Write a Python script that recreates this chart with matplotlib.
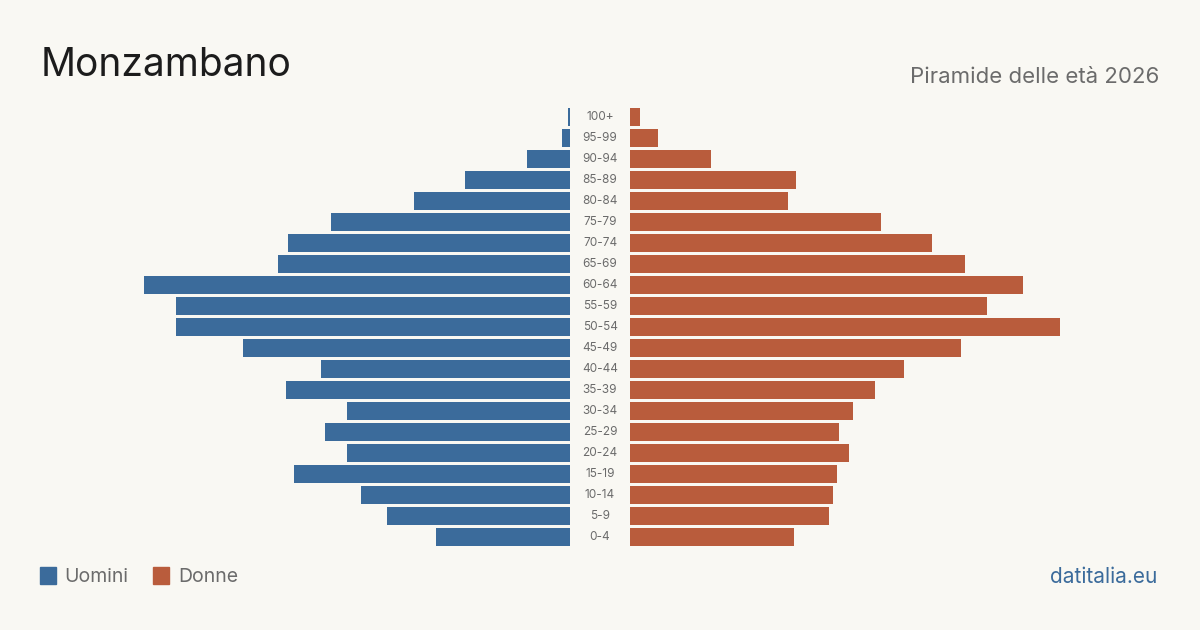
import matplotlib
matplotlib.use("Agg")
import matplotlib.pyplot as plt
from matplotlib.patches import Rectangle
from matplotlib.transforms import blended_transform_factory

# age classes, bottom to top
age_groups = ["0-4", "5-9", "10-14", "15-19", "20-24", "25-29", "30-34", "35-39",
              "40-44", "45-49", "50-54", "55-59", "60-64", "65-69", "70-74",
              "75-79", "80-84", "85-89", "90-94", "95-99", "100+"]
uomini = [134, 183, 209, 276, 223, 245, 223, 284, 249, 327, 394, 394, 426,
          292, 282, 239, 156, 105, 43, 8, 2]
donne = [164, 199, 203, 207, 219, 209, 223, 245, 274, 331, 430, 357, 393,
         335, 302, 251, 158, 166, 81, 28, 10]

bg = "#f9f8f3"
blue = "#3b6b9b"
red = "#b95c3c"

W, H = 1200, 630
fig = plt.figure(figsize=(12, 6.3), dpi=100, facecolor=bg)

def px_axes(x0, x1, ytop, ybot):
    return fig.add_axes([x0 / W, 1 - ybot / H, (x1 - x0) / W, (ybot - ytop) / H])

ytop, ybot = 106.5, 547.5
ax_l = px_axes(40, 570, ytop, ybot)
ax_r = px_axes(630, 1160, ytop, ybot)

ypos = list(range(len(age_groups)))
ax_l.barh(ypos, uomini, height=0.81, color=blue)
ax_r.barh(ypos, donne, height=0.81, color=red)
ax_l.set_xlim(530, 0)
ax_r.set_xlim(0, 530)
for ax in (ax_l, ax_r):
    ax.set_ylim(-0.5, len(age_groups) - 0.5)
    ax.axis("off")
    ax.set_facecolor("none")

tr = blended_transform_factory(fig.transFigure, ax_r.transData)
for y, lab in zip(ypos, age_groups):
    fig.text(600 / W, y, lab, transform=tr, ha="center", va="center",
             fontsize=8.5, color="#6b6b6b", family="Inter")

fig.text(41 / W, 1 - 66 / H, "Monzambano", fontsize=28, color="#1c1c1c",
         family="Inter", va="center", ha="left")
fig.text(1159 / W, 1 - 77 / H, "Piramide delle età 2026", fontsize=16,
         color="#6b6b6b", family="Inter", va="center", ha="right")

# legend
for x0, col, lab, tx in [(40, blue, "Uomini", 64), (153, red, "Donne", 178)]:
    fig.patches.append(Rectangle((x0 / W, 1 - 584 / H), 16 / W, 17 / H,
                                 transform=fig.transFigure, color=col))
    fig.text(tx / W, 1 - 577 / H, lab, fontsize=14, color="#6b6b6b",
             family="Inter", va="center", ha="left")

fig.text(1157 / W, 1 - 577 / H, "datitalia.eu", fontsize=15, color=blue,
         family="Inter", va="center", ha="right")

fig.savefig("out.png", dpi=100, facecolor=bg)
